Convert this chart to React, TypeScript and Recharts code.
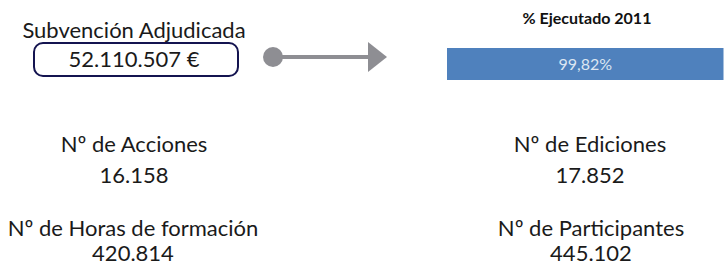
import React from "react";
import { BarChart, Bar, XAxis, YAxis, LabelList, Customized } from "recharts";

const executedCategories = ["% Ejecutado 2011"];
const executedValues = [99.82];
const executedLabels = ["99,82%"];

const grantLabel = "Subvención Adjudicada";
const grantValue = "52.110.507 €";

const metricLabels = ["Nº de Acciones", "Nº de Horas de formación", "Nº de Ediciones", "Nº de Participantes"];
const metricValues = ["16.158", "420.814", "17.852", "445.102"];

const data = executedCategories.map((c, i) => ({ name: c, value: executedValues[i], label: executedLabels[i] }));

const FONT = "Lato, 'Open Sans', sans-serif";

const metricPos = [
  { x: 134, y: 152, vy: 183 },
  { x: 133, y: 236, vy: 261 },
  { x: 590, y: 152, vy: 183 },
  { x: 591, y: 236, vy: 261 },
];

const Decorations = () => (
  <g fontFamily={FONT}>
    <text x={587} y={24} textAnchor="middle" fontSize={16} fontWeight={700} fill="#111">
      {executedCategories[0]}
    </text>
    <text x={134} y={38} textAnchor="middle" fontSize={22} fill="#1a1a1a">
      {grantLabel}
    </text>
    <rect x={34} y={43} width={204} height={33} rx={9} ry={9} fill="none" stroke="#141450" strokeWidth={2} />
    <text x={134} y={67} textAnchor="middle" fontSize={22} fill="#1a1a1a">
      {grantValue}
    </text>
    <line x1={273} y1={57} x2={370} y2={57} stroke="#8e8e93" strokeWidth={4} />
    <circle cx={273} cy={57} r={10} fill="#8e8e93" />
    <polygon points="368,42 387,57 368,72" fill="#8e8e93" />
    {metricLabels.map((l, i) => (
      <g key={l}>
        <text x={metricPos[i].x} y={metricPos[i].y} textAnchor="middle" fontSize={22} fill="#1a1a1a">
          {l}
        </text>
        <text x={metricPos[i].x} y={metricPos[i].vy} textAnchor="middle" fontSize={22} fill="#1a1a1a">
          {metricValues[i]}
        </text>
      </g>
    ))}
  </g>
);

export default function App() {
  return (
    <div style={{ width: 724, height: 265, background: "#fff" }}>
      <style>{`body{margin:0}`}</style>
      <BarChart
        width={724}
        height={265}
        data={data}
        layout="vertical"
        margin={{ top: 48, bottom: 185, left: 447, right: 0 }}
        barCategoryGap={0}
      >
        <XAxis type="number" domain={[0, 100]} hide />
        <YAxis type="category" dataKey="name" hide />
        <Bar dataKey="value" fill="#4f81bd" isAnimationActive={false}>
          <LabelList
            dataKey="label"
            position="center"
            fill="#dce6f2"
            fontSize={16}
            fontFamily={FONT}
          />
        </Bar>
        <Customized component={Decorations} />
      </BarChart>
    </div>
  );
}
